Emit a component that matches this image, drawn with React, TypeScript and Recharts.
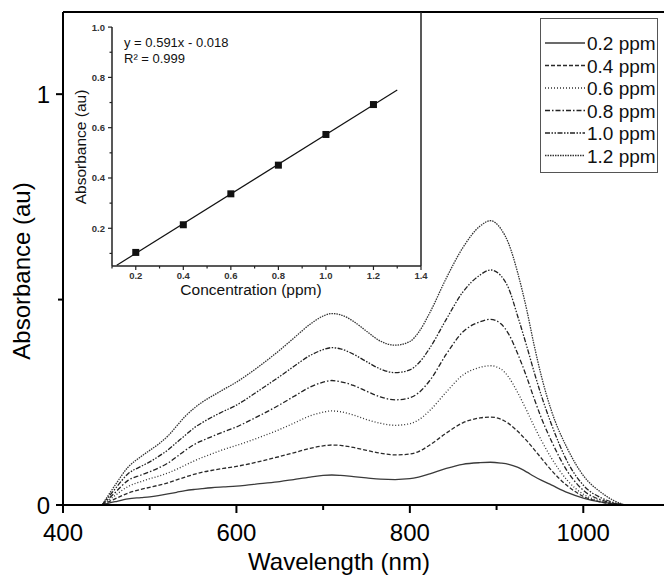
import React from 'react';
import { LineChart, ComposedChart, Line, Scatter, XAxis, YAxis, ReferenceLine, Legend } from 'recharts';

// wavelength grid (nm) and absorbance
const wavelengths = [445, 460, 475, 490, 500, 510, 521, 531, 541, 552, 561, 571, 585, 600, 610, 627, 650, 666, 685, 700, 710, 720, 735, 750, 766, 783, 800, 810, 823, 842, 861, 881, 893, 905, 914, 924, 935, 943, 952, 963, 982, 1001, 1021, 1035, 1048];

const ppm02 = [0, 0.008, 0.015, 0.018, 0.02, 0.023, 0.027, 0.031, 0.035, 0.038, 0.04, 0.042, 0.044, 0.046, 0.048, 0.052, 0.057, 0.062, 0.068, 0.072, 0.073, 0.072, 0.069, 0.066, 0.063, 0.062, 0.064, 0.068, 0.076, 0.089, 0.099, 0.103, 0.104, 0.102, 0.099, 0.092, 0.08, 0.07, 0.06, 0.049, 0.03, 0.016, 0.007, 0.003, 0];
const ppm04 = [0, 0.015, 0.029, 0.038, 0.043, 0.048, 0.054, 0.061, 0.068, 0.075, 0.08, 0.084, 0.089, 0.094, 0.098, 0.106, 0.118, 0.127, 0.138, 0.144, 0.146, 0.145, 0.14, 0.133, 0.126, 0.122, 0.124, 0.13, 0.146, 0.175, 0.2, 0.212, 0.214, 0.209, 0.198, 0.18, 0.156, 0.136, 0.113, 0.085, 0.046, 0.02, 0.007, 0.002, 0];
const ppm06 = [0, 0.023, 0.045, 0.057, 0.064, 0.07, 0.078, 0.087, 0.097, 0.108, 0.116, 0.124, 0.135, 0.145, 0.152, 0.165, 0.184, 0.199, 0.217, 0.226, 0.229, 0.227, 0.219, 0.208, 0.199, 0.194, 0.198, 0.207, 0.23, 0.275, 0.316, 0.335, 0.339, 0.331, 0.311, 0.275, 0.229, 0.193, 0.156, 0.115, 0.059, 0.025, 0.009, 0.003, 0];
const ppm08 = [0, 0.03, 0.06, 0.073, 0.081, 0.09, 0.102, 0.117, 0.133, 0.148, 0.157, 0.166, 0.178, 0.19, 0.2, 0.218, 0.244, 0.264, 0.287, 0.299, 0.303, 0.3, 0.291, 0.277, 0.263, 0.256, 0.261, 0.273, 0.303, 0.367, 0.421, 0.446, 0.452, 0.441, 0.416, 0.37, 0.31, 0.261, 0.21, 0.157, 0.081, 0.034, 0.012, 0.004, 0];
const ppm10 = [0, 0.039, 0.076, 0.094, 0.105, 0.118, 0.134, 0.152, 0.17, 0.189, 0.201, 0.213, 0.228, 0.243, 0.256, 0.28, 0.313, 0.337, 0.364, 0.378, 0.383, 0.38, 0.367, 0.349, 0.331, 0.322, 0.329, 0.345, 0.382, 0.452, 0.518, 0.56, 0.572, 0.558, 0.527, 0.462, 0.385, 0.326, 0.264, 0.198, 0.104, 0.046, 0.017, 0.006, 0];
const ppm12 = [0, 0.048, 0.092, 0.118, 0.133, 0.148, 0.168, 0.192, 0.216, 0.237, 0.251, 0.264, 0.281, 0.299, 0.313, 0.339, 0.377, 0.406, 0.44, 0.46, 0.466, 0.463, 0.447, 0.423, 0.399, 0.389, 0.398, 0.42, 0.468, 0.552, 0.626, 0.679, 0.692, 0.672, 0.636, 0.568, 0.473, 0.392, 0.311, 0.231, 0.136, 0.069, 0.03, 0.011, 0];

const seriesNames = ['0.2 ppm', '0.4 ppm', '0.6 ppm', '0.8 ppm', '1.0 ppm', '1.2 ppm'];

// inset: calibration at the ~893 nm peak
const concentrations = [0.2, 0.4, 0.6, 0.8, 1.0, 1.2];
const peakAbsorbance = [0.104, 0.214, 0.337, 0.451, 0.573, 0.692];
const fitX = [0.12, 1.3];
const fitY = [0.053, 0.75];

const mainXTicks = [400, 500, 600, 700, 800, 900, 1000, 1100];
const mainYTicks = [0, 0.5, 1];
const insetXTicks = [0.1, 0.2, 0.3, 0.4, 0.5, 0.6, 0.7, 0.8, 0.9, 1.0, 1.1, 1.2, 1.3, 1.4];
const insetYTicks = [0.1, 0.2, 0.3, 0.4, 0.5, 0.6, 0.7, 0.8, 0.9, 1.0];

const STYLES = [
  { key: 's02', dash: undefined, color: '#3a3a3a' },
  { key: 's04', dash: '4 2', color: '#2a2a2a' },
  { key: 's06', dash: '1 2', color: '#333' },
  { key: 's08', dash: '5 2 1.5 2', color: '#222' },
  { key: 's10', dash: '5 1.5 1.5 1.5 1.5 1.5', color: '#222' },
  { key: 's12', dash: '1.5 1', color: '#333' },
];

const table = wavelengths.map((w, i) => ({
  w,
  s02: ppm02[i],
  s04: ppm04[i],
  s06: ppm06[i],
  s08: ppm08[i],
  s10: ppm10[i],
  s12: ppm12[i],
}));

const insetData = concentrations.map((c, i) => ({ c, a: peakAbsorbance[i] }));
const fitData = fitX.map((c, i) => ({ c, a: fitY[i] }));

const MainXTick = (props: any) => {
  const { x, y, payload } = props;
  const major = payload.value % 200 === 0;
  return (
    <g>
      <line x1={x} x2={x} y1={y} y2={y + (major ? 8 : 5)} stroke="#000" strokeWidth={2} />
      {major && (
        <text x={x} y={y + 36} textAnchor="middle" fontSize={24} fill="#000">
          {payload.value}
        </text>
      )}
    </g>
  );
};

const MainYTick = (props: any) => {
  const { x, y, payload } = props;
  const major = payload.value === 0 || payload.value === 1;
  return (
    <g>
      <line x1={x - (major ? 7 : 5)} x2={x} y1={y} y2={y} stroke="#000" strokeWidth={2} />
      {major && (
        <text x={x - 13} y={y + 8.5} textAnchor="end" fontSize={24} fill="#000">
          {payload.value}
        </text>
      )}
    </g>
  );
};

const InsetXTick = (props: any) => {
  const { x, y, payload } = props;
  const major = Math.round(payload.value * 10) % 2 === 0;
  return (
    <g>
      <line x1={x} x2={x} y1={y} y2={y + (major ? 4 : 2.5)} stroke="#222" strokeWidth={1.2} />
      {major && (
        <text x={x} y={y + 13} textAnchor="middle" fontSize={9.5} fontWeight="bold" fill="#333">
          {payload.value.toFixed(1)}
        </text>
      )}
    </g>
  );
};

const InsetYTick = (props: any) => {
  const { x, y, payload } = props;
  const major = Math.round(payload.value * 10) % 2 === 0;
  return (
    <g>
      <line x1={x - (major ? 4 : 2.5)} x2={x} y1={y} y2={y} stroke="#222" strokeWidth={1.2} />
      {major && (
        <text x={x - 7} y={y + 3.5} textAnchor="end" fontSize={9.5} fontWeight="bold" fill="#333">
          {payload.value.toFixed(1)}
        </text>
      )}
    </g>
  );
};

const Square = (props: any) => (
  <rect x={props.cx - 3.5} y={props.cy - 3.5} width={7} height={7} fill="#111" />
);

const renderLegend = () => (
  <div style={{ width: 118, height: 155, border: '1px solid #555', boxSizing: 'border-box', background: '#fff' }}>
    <svg width={116} height={153}>
      {STYLES.map((s, i) => (
        <g key={s.key}>
          <line x1={4} x2={44} y1={24 + i * 22.5} y2={24 + i * 22.5} stroke={s.color} strokeWidth={1.3} strokeDasharray={s.dash} />
          <text x={46} y={31 + i * 22.5} fontSize={19} fill="#111">
            {seriesNames[i]}
          </text>
        </g>
      ))}
    </svg>
  </div>
);

export default function App() {
  return (
    <div
      style={{
        position: 'absolute',
        left: 0,
        top: 0,
        width: 664,
        height: 581,
        overflow: 'hidden',
        background: '#fff',
        fontFamily: '"Liberation Sans", Arial, sans-serif',
      }}
    >
      <div style={{ position: 'absolute', left: 0, top: 0 }}>
        <LineChart width={700} height={581} data={table} margin={{ top: 12, right: 30, left: 0, bottom: 0 }}>
          <XAxis
            dataKey="w"
            type="number"
            domain={[400, 1100]}
            ticks={mainXTicks}
            interval={0}
            height={76}
            tickSize={0}
            tickMargin={0}
            tickLine={false}
            tick={<MainXTick />}
            axisLine={{ stroke: '#000', strokeWidth: 2 }}
            label={{
              content: () => (
                <text x={339} y={570} textAnchor="middle" fontSize={24} fill="#000">
                  Wavelength (nm)
                </text>
              ),
            }}
          />
          <YAxis
            type="number"
            domain={[0, 1.2]}
            ticks={mainYTicks}
            interval={0}
            width={63}
            tickSize={0}
            tickMargin={0}
            tickLine={false}
            tick={<MainYTick />}
            axisLine={{ stroke: '#000', strokeWidth: 2 }}
            label={{
              content: () => (
                <text transform="translate(30,271) rotate(-90)" textAnchor="middle" fontSize={24} fill="#000">
                  Absorbance (au)
                </text>
              ),
            }}
          />
          <ReferenceLine y={1.2} stroke="#000" strokeWidth={2} />
          {STYLES.map((s) => (
            <Line
              key={s.key}
              type="monotone"
              dataKey={s.key}
              stroke={s.color}
              strokeWidth={1.3}
              strokeDasharray={s.dash}
              dot={false}
              activeDot={false}
              isAnimationActive={false}
            />
          ))}
          <Legend
            layout="vertical"
            align="center"
            verticalAlign="middle"
            content={renderLegend}
            wrapperStyle={{ position: 'absolute', left: 540, top: 18, width: 118, height: 155 }}
          />
        </LineChart>
      </div>

      <div style={{ position: 'absolute', left: 0, top: 0 }}>
        <ComposedChart width={440} height={310} data={insetData} margin={{ top: 12, right: 19, left: 0, bottom: 0 }}>
          <XAxis
            dataKey="c"
            type="number"
            domain={[0.1, 1.4]}
            ticks={insetXTicks}
            interval={0}
            height={44}
            tickSize={0}
            tickMargin={0}
            tickLine={false}
            tick={<InsetXTick />}
            axisLine={{ stroke: '#222', strokeWidth: 1.5 }}
            label={{
              content: () => (
                <text x={251} y={295} textAnchor="middle" fontSize={15.5} fill="#111">
                  Concentration (ppm)
                </text>
              ),
            }}
          />
          <YAxis
            type="number"
            domain={[0.05, 1.06]}
            ticks={insetYTicks}
            interval={0}
            width={112}
            tickSize={0}
            tickMargin={0}
            tickLine={false}
            tick={<InsetYTick />}
            axisLine={false}
            label={{
              content: () => (
                <text transform="translate(86,147) rotate(-90)" textAnchor="middle" fontSize={15.5} fill="#111">
                  Absorbance (au)
                </text>
              ),
            }}
          />
          <ReferenceLine segment={[{ x: 0.1, y: 0.05 }, { x: 0.1, y: 1.0 }]} stroke="#222" strokeWidth={1.5} />
          <ReferenceLine x={1.4} stroke="#222" strokeWidth={1.5} />
          <Line data={fitData} dataKey="a" type="linear" stroke="#111" strokeWidth={1.2} dot={false} activeDot={false} isAnimationActive={false} />
          <Scatter dataKey="a" shape={<Square />} isAnimationActive={false} />
        </ComposedChart>
      </div>

      <div style={{ position: 'absolute', left: 124, top: 35, fontSize: 13, lineHeight: '16px', color: '#111' }}>
        y = 0.591x - 0.018
        <br />
        R² = 0.999
      </div>
    </div>
  );
}
